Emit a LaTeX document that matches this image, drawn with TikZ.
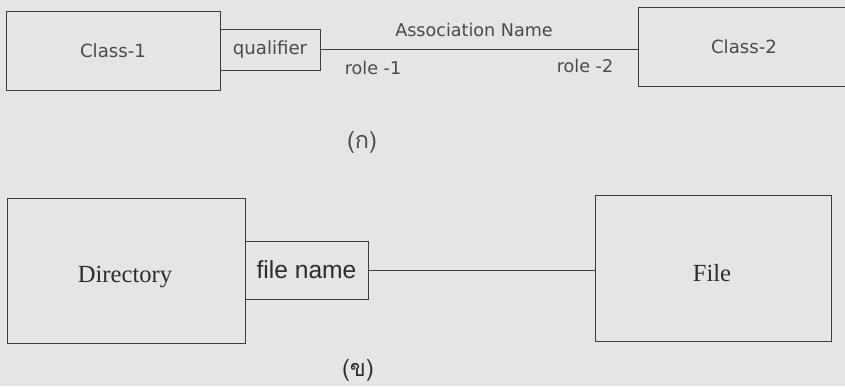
\documentclass[tikz,border=0pt]{standalone}
\usepackage{fontspec}
\setmainfont{Liberation Serif}
\setsansfont{DejaVu Sans}
\newfontfamily\arialfont{Liberation Sans}
\newfontfamily\thaifont[Script=Thai]{Loma}
\definecolor{paper}{RGB}{229,229,231}
\definecolor{ink}{RGB}{60,60,60}
\definecolor{txt}{RGB}{75,75,75}
\definecolor{txtdark}{RGB}{45,45,45}

\begin{document}
\begin{tikzpicture}[x=0.03cm, y=-0.03cm,
  box/.style={draw=ink, line width=0.75pt, rectangle, inner sep=0pt, outer sep=0pt},
  every node/.style={text=txt}]
\path[fill=paper, use as bounding box] (0,0) rectangle (845,386);
\clip (0,0) rectangle (845,386);

% (ก)
\node[box, minimum width=6.42cm, minimum height=2.37cm, font=\sffamily\fontsize{15.5}{18}\selectfont] (cls1) at (113, 50.5) {Class-1};
\node[box, minimum width=3.0cm, minimum height=1.23cm, font=\sffamily\fontsize{15.5}{18}\selectfont] (qual) at (270, 49.5) {qualifier};
\node[box, minimum width=6.36cm, minimum height=2.37cm, font=\sffamily\fontsize{15.5}{18}\selectfont] (cls2) at (744, 46.5) {Class-2};
\draw[ink, line width=0.75pt] (qual.east) -- (qual.east -| cls2.west);
\node[font=\sffamily\fontsize{15}{18}\selectfont] (aname) at (474, 30) {Association Name};
\node[font=\sffamily\fontsize{15}{18}\selectfont] (role1) at (373, 68) {role -1};
\node[font=\sffamily\fontsize{15}{18}\selectfont] (role2) at (585, 66) {role -2};
\node[font=\thaifont\fontsize{20}{24}\selectfont] (capa) at (362, 142) {(ก)};

% (ข)
\node[box, minimum width=7.14cm, minimum height=4.35cm] (dir) at (126, 270.5) {};
\node[font=\fontsize{21}{24}\selectfont, text=txtdark] (dirtxt) at (125, 277) {Directory};
\node[box, minimum width=3.69cm, minimum height=1.74cm, font=\arialfont\fontsize{21}{24}\selectfont, text=txtdark] (fname) at (306.5, 270) {file name};
\node[box, minimum width=7.08cm, minimum height=4.38cm] (file) at (713, 268) {};
\node[font=\fontsize{21}{24}\selectfont, text=txtdark] (filetxt) at (712, 273) {File};
\draw[ink, line width=0.75pt] (fname.east) -- (fname.east -| file.west);
\node[font=\thaifont\fontsize{20}{24}\selectfont, text=txtdark] (capb) at (358, 370) {(ข)};
\end{tikzpicture}
\end{document}
